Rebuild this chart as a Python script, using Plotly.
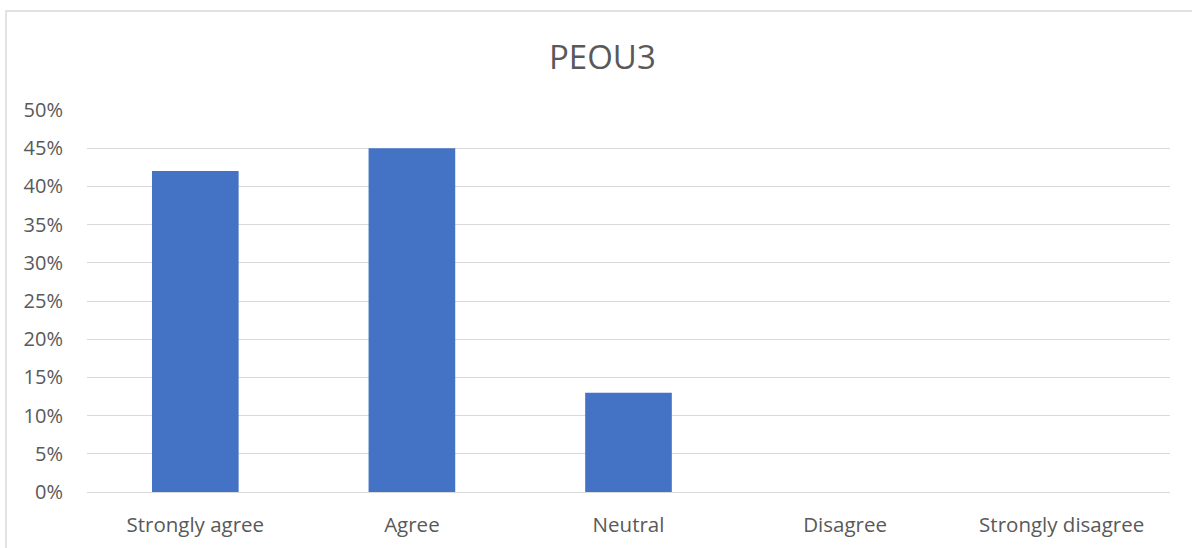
import plotly.graph_objects as go

categories = ["Strongly agree", "Agree", "Neutral", "Disagree", "Strongly disagree"]
values = [0.42, 0.45, 0.13, 0.0, 0.0]
title_text = "PEOU3"

W, H = 1192, 548
L, R, T, B = 87, 22, 110, 56
pw, ph = W - L - R, H - T - B

fig = go.Figure(go.Bar(x=categories, y=values, marker_color="#4472C4",
                       marker_line_width=0, hoverinfo="skip"))

def px2paper_x(px):
    return (px - L) / pw

def px2paper_y(py):
    return (H - B - py) / ph

fig.update_layout(
    width=W, height=H,
    margin=dict(l=L, r=R, t=T, b=B, autoexpand=False),
    paper_bgcolor="white", plot_bgcolor="white",
    bargap=0.6, showlegend=False,
    font=dict(family="Open Sans, Liberation Sans, sans-serif", color="#595959", size=20),
    yaxis=dict(range=[0, 0.5], dtick=0.05, tickformat=".0%", showgrid=True,
               gridcolor="#D9D9D9", gridwidth=1, zeroline=False, showline=False,
               automargin=False,
               ticks="", ticklabelstandoff=23, tickfont=dict(size=20, color="#595959")),
    xaxis=dict(showgrid=False, showline=True, linecolor="#D9D9D9", linewidth=1,
               automargin=False,
               ticks="", ticklabelstandoff=14, tickfont=dict(size=20.5, color="#595959")),
    annotations=[dict(text=title_text, x=px2paper_x(602), y=px2paper_y(56),
                      xref="paper", yref="paper", xanchor="center", yanchor="middle",
                      showarrow=False, font=dict(size=33, color="#595959"))],
    shapes=[dict(type="rect", xref="paper", yref="paper",
                 x0=px2paper_x(6), x1=px2paper_x(1205),
                 y0=px2paper_y(560), y1=px2paper_y(11),
                 line=dict(color="#D9D9D9", width=1.5), fillcolor="rgba(0,0,0,0)",
                 layer="below")],
)

fig.write_html("out.html", config={"displayModeBar": False},
               post_script="document.body.style.margin='0';document.body.style.overflow='hidden';")
